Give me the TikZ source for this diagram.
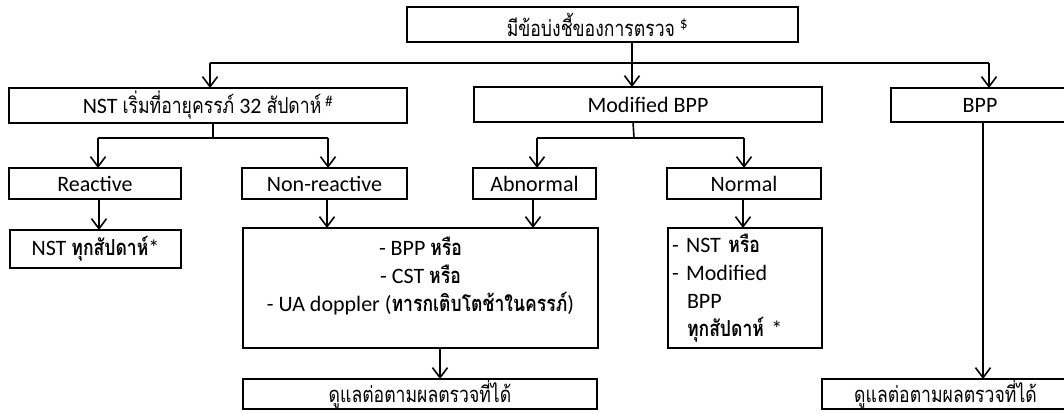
\documentclass[tikz,border=0pt]{standalone}
\usepackage{fontspec}
\setmainfont{Carlito}
\newfontfamily\thaifnt[Script=Thai,Scale=1.0,FakeStretch=0.8]{Loma}
\usetikzlibrary{arrows.meta}
\newcommand{\tx}[1]{{\thaifnt #1}}
\newcommand{\tb}[1]{{\thaifnt\bfseries #1}}
\begin{document}
\begin{tikzpicture}[x=1pt,y=-1pt,
  box/.style={draw,line width=1.8pt,inner sep=0pt,outer sep=0pt,font=\fontsize{22}{28}\selectfont},
  link/.style={line width=1.6pt},
  arr/.style={line width=1.6pt,-{Straight Barb[length=10pt,width=15pt]}}]
\useasboundingbox (0,0) rectangle (1064,412);
\fill[white] (0,0) rectangle (1064,412);

% boxes
\node[box,minimum width=391pt,minimum height=35pt] (top) at (602.5,24.5) {\tx{มีข้อบ่งชี้ของการตรวจ} \textsuperscript{\$}\hspace*{10pt}};
\node[box,minimum width=398pt,minimum height=35pt] (nst) at (208,105.5) {NST \tx{เริ่มที่อายุครรภ์} 32 \tx{สัปดาห์}\,\textsuperscript{\#}};
\node[box,minimum width=348pt,minimum height=35pt] (mod) at (648,104.5) {Modified BPP};
\node[box,minimum width=178pt,minimum height=34pt] (bpp) at (980,105) {BPP};

\node[box,minimum width=172pt,minimum height=31pt] (reac) at (95,183.5) {Reactive};
\node[box,minimum width=165pt,minimum height=31pt] (nonr) at (324.5,183.5) {Non-reactive};
\node[box,minimum width=123pt,minimum height=31pt] (abn) at (534.5,183.5) {Abnormal};
\node[box,minimum width=154pt,minimum height=31pt] (norm) at (744,183.5) {Normal};

\node[box,minimum width=171pt,minimum height=38pt] (nstw) at (95.5,249) {NST \tb{ทุกสัปดาห์}*};
\node[box,minimum width=355pt,minimum height=120pt,align=center] (big) at (420.5,288)
  {- BPP \tb{หรือ}\\- CST \tb{หรือ}\\- UA doppler (\tb{ทารกเติบโตช้าในครรภ์})\\\mbox{}};
\node[box,minimum width=154pt,minimum height=120pt,text width=146pt,align=left] (nbox) at (745,288)
  {- NST \tb{หรือ}\\- Modified\\\hspace*{15pt}BPP\\\hspace*{15pt}\tb{ทุกสัปดาห์} *};

\node[box,minimum width=354pt,minimum height=30pt] (care1) at (420,394) {\raisebox{2pt}{\tx{ดูแลต่อตามผลตรวจที่ได้}}};
\node[box,minimum width=247pt,minimum height=30pt] (care2) at (945.5,394) {\raisebox{2pt}{\tx{ดูแลต่อตามผลตรวจที่ได้}}};

% junctions
\coordinate (j0) at (632,63);
\coordinate (jL) at (210,63);
\coordinate (jR) at (989,63);
\coordinate (n0) at (213,138);
\coordinate (nL) at (98,138);
\coordinate (nR) at (328,138);
\coordinate (m0) at (634,138);
\coordinate (mL) at (537,138);
\coordinate (mR) at (744,138);
\coordinate (xr) at (99,0);
\coordinate (xn) at (327,0);
\coordinate (xa) at (533,0);
\coordinate (xm) at (743,0);
\coordinate (xb) at (440,0);
\coordinate (xp) at (983,0);
\coordinate (xo) at (633,0);

% connectors
\draw[arr] (top.south -| j0) -- (mod.north -| j0);
\draw[link] (jL) -- (jR);
\draw[arr] (jL) -- (jL |- nst.north);
\draw[arr] (jR) -- (jR |- bpp.north);

\draw[link] (nst.south -| n0) -- (n0);
\draw[link] (nL) -- (nR);
\draw[arr] (nL) -- (nL |- reac.north);
\draw[arr] (nR) -- (nR |- nonr.north);

\draw[link] (mod.south -| xo) -- (m0);
\draw[link] (mL) -- (mR);
\draw[arr] (mL) -- (mL |- abn.north);
\draw[arr] (mR) -- (mR |- norm.north);

\draw[arr] (reac.south -| xr) -- (nstw.north -| xr);
\draw[arr] (nonr.south -| xn) -- (big.north -| xn);
\draw[arr] (abn.south -| xa) -- (big.north -| xa);
\draw[arr] (norm.south -| xm) -- (nbox.north -| xm);
\draw[arr] (big.south -| xb) -- (care1.north -| xb);
\draw[arr] (bpp.south -| xp) -- (care2.north -| xp);
\end{tikzpicture}
\end{document}
